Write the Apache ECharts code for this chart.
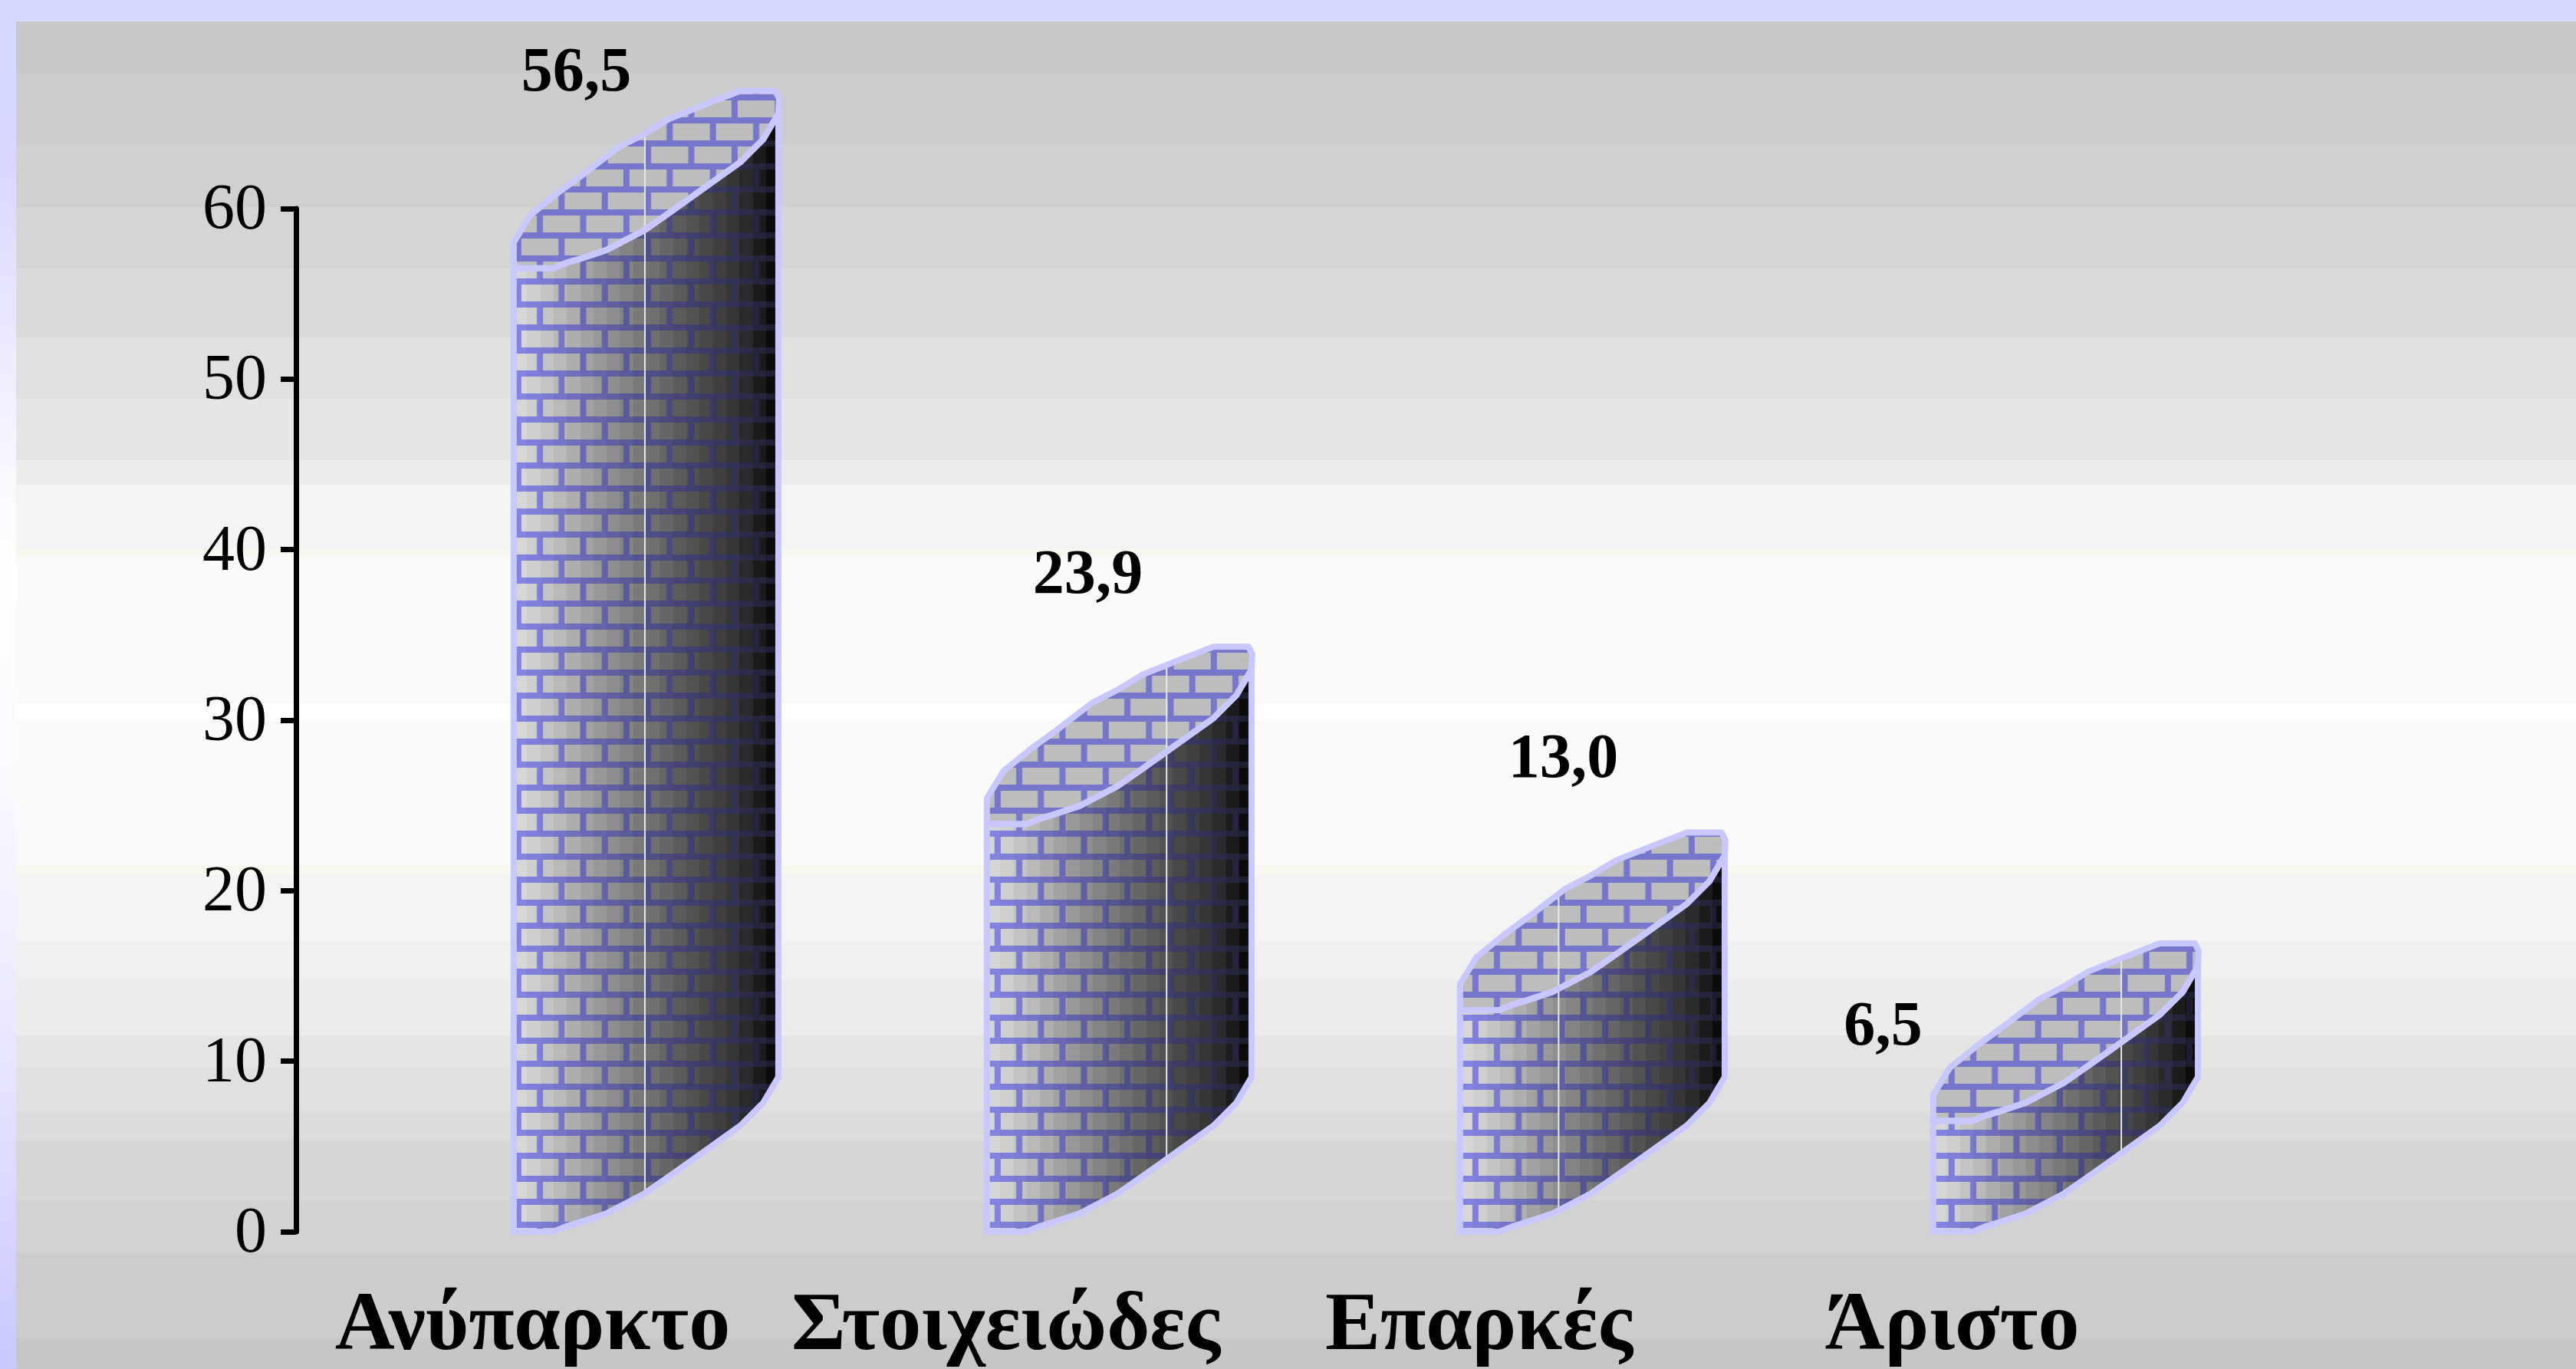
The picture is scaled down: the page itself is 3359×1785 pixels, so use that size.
<!DOCTYPE html>
<html lang="el">
<head>
<meta charset="utf-8">
<title>Επίπεδα</title>
<style>
  html, body { margin: 0; padding: 0; background: #fff; overflow: hidden; }
  #chart { width: 3359px; height: 1785px; }
</style>
<script src="https://cdn.jsdelivr.net/npm/echarts@6/dist/echarts.min.js"></script>
</head>
<body>
<div id="chart"></div>
<script>
// Chart content
const categories = ['Ανύπαρκτο', 'Στοιχειώδες', 'Επαρκές', 'Άριστο'];
const values = [56.5, 23.9, 13.0, 6.5];
const tickValues = { min: 0, max: 60, step: 10 };

// Hand-placed value labels: offset from the band centre and the column's top
const labelShift = [[57, -253], [107, -323], [110, -325], [-90, -121]];
// Seam line on each column, measured from its left edge
const seamAt = [173, 237, 130, 248];
// Horizontal phase of the brick joints on each column
const brickPhase = [6, 14, 20, 24];

// Column section, in units where the column is 350 wide; y grows downward
const SECTION_WIDTH = 350;
const frontEdge = [[0, 0], [8, 0], [52, 0], [69, -7], [89, -13], [122, -24], [172, -50],
  [205, -73], [229, -90], [299, -140], [329, -170], [349, -204]];
const backEdge = [[350, -224], [345, -234], [299, -234], [255, -217], [205, -197],
  [172, -177], [139, -160], [92, -124], [59, -100], [22, -70], [0, -34]];

const OUTLINE = '#c8c8ff';
const RIM_GREY = 0xbd;
const SERIF = '"Liberation Serif", "Times New Roman", serif';

// Stepped shading across the column body, light on the left and black on the right
const shadeLevels = [0xd6, 0xce, 0xc4, 0xba, 0xae, 0xa2, 0x98, 0x8e, 0x84, 0x7a, 0x70, 0x66,
  0x5c, 0x52, 0x48, 0x40, 0x36, 0x2a, 0x1c, 0x0c];

// One repeating tile of wall: grey shading with blue-tinted mortar laid over it.
// Two courses, half a brick out of step; the tile is as wide as the column.
const brickW = 56.4, brickH = 60, mortar = 8;
function paintMortar(g, w, phase) {
  const joint = (x, y0, y1) => g.fillRect(x - mortar / 2, y0, mortar, y1 - y0);
  g.fillRect(0, 7 - mortar / 2, w, mortar);
  g.fillRect(0, 37 - mortar / 2, w, mortar);
  for (let x = phase - brickW; x < w + brickW; x += brickW) {
    joint(x, 7 + mortar / 2, 37 - mortar / 2);
    joint(x + brickW / 2, 37 + mortar / 2, brickH);
    joint(x + brickW / 2, 0, 7 - mortar / 2);
  }
}
function wallTile(width, phase, levels) {
  const c = document.createElement('canvas');
  c.width = Math.ceil(width) + 8;
  c.height = brickH;
  const g = c.getContext('2d');
  levels.forEach((v, i) => {
    g.fillStyle = `rgb(${v},${v},${v})`;
    const x0 = Math.round(i * width / levels.length);
    const x1 = i === levels.length - 1 ? c.width : Math.round((i + 1) * width / levels.length);
    g.fillRect(x0, 0, x1 - x0, brickH);
  });
  g.globalCompositeOperation = 'multiply';
  g.fillStyle = 'rgb(130,130,225)';
  paintMortar(g, c.width, phase);
  g.globalCompositeOperation = 'lighter';
  g.fillStyle = 'rgb(22,22,36)';
  paintMortar(g, c.width, phase);
  return c;
}

// Height of an edge polyline at a given distance from the left of the section
function edgeAt(edge, x) {
  const pts = edge.slice().sort((a, b) => a[0] - b[0]);
  for (let i = 1; i < pts.length; i++) {
    if (x <= pts[i][0]) {
      const t = (x - pts[i - 1][0]) / (pts[i][0] - pts[i - 1][0] || 1);
      return pts[i - 1][1] + t * (pts[i][1] - pts[i - 1][1]);
    }
  }
  return pts[pts.length - 1][1];
}

const tileCache = {};
function renderColumn(params, api) {
  const i = api.value(0), v = api.value(1);
  const band = api.size([1, 0])[0];
  const center = api.coord([i, 0])[0];
  const baseY = api.coord([i, 0])[1];
  const topY = api.coord([i, v])[1];
  const width = band * 0.561;
  const left = center - band * 0.04;
  const k = width / SECTION_WIDTH;
  const at = y => p => [left + p[0] * k, y + p[1] * k];

  const frontLow = frontEdge.map(at(baseY));
  const frontTop = frontEdge.map(at(topY));
  const rear = backEdge.map(at(topY));
  const bodyPts = frontLow.concat(frontTop.slice().reverse());
  const rimPts = frontTop.concat(rear);

  if (!tileCache[i]) {
    tileCache[i] = {
      body: wallTile(width, brickPhase[i], shadeLevels),
      rim: wallTile(width, brickPhase[i], [RIM_GREY])
    };
  }
  const wall = image => ({ image, repeat: 'repeat', x: left, y: 0 });
  const seamX = seamAt[i];
  const seamLow = baseY + edgeAt(frontEdge, seamX) * k;
  const seamHigh = topY + edgeAt(backEdge, seamX) * k;
  const edgeStyle = { fill: 'none', stroke: OUTLINE, lineWidth: 8, lineJoin: 'round' };
  const poly = (points, style) => ({ type: 'polygon', shape: { points }, style });

  return {
    type: 'group',
    children: [
      poly(bodyPts, { fill: wall(tileCache[i].body) }),
      poly(rimPts, { fill: wall(tileCache[i].rim) }),
      {
        type: 'line',
        shape: { x1: left + seamX * k, y1: seamLow, x2: left + seamX * k, y2: seamHigh },
        style: { stroke: '#e8e8e8', lineWidth: 2 }
      },
      poly(bodyPts, edgeStyle),
      poly(rimPts, edgeStyle),
      {
        type: 'text',
        style: {
          text: v.toFixed(1).replace('.', ','),
          x: center + labelShift[i][0],
          y: topY + labelShift[i][1],
          align: 'center',
          verticalAlign: 'middle',
          font: 'bold 82px ' + SERIF,
          fill: '#000'
        }
      }
    ]
  };
}

// Slide backdrop: banded grey panel on a lavender frame
const CANVAS_H = 1785, PANEL_TOP = 28, FRAME_W = 21;
const panelBandTops = [28, 95, 187, 270, 350, 440, 520, 600, 632, 715, 726, 918, 940,
  1128, 1141, 1226, 1277, 1350, 1393, 1450, 1487, 1565, 1633, 1745];
const panelBandGreys = ['#c8c8c8', '#cccccc', '#d0d0d0', '#d5d5d5', '#dadada', '#e0e0e0',
  '#e6e6e6', '#ececec', '#f4f4f4', '#f8f8f0', '#fafafa', '#ffffff', '#fafafa', '#f8f8f0',
  '#f4f4f4', '#f0f0f0', '#ececec', '#e4e4e4', '#e0e0e0', '#dcdcdc', '#d6d6d6', '#d2d2d2',
  '#cccccc', '#c6c6c6'];
function panelGradient() {
  const span = CANVAS_H - PANEL_TOP;
  const stops = [];
  panelBandTops.forEach((y, i) => {
    const next = i + 1 < panelBandTops.length ? panelBandTops[i + 1] : CANVAS_H;
    stops.push({ offset: (y - PANEL_TOP) / span, color: panelBandGreys[i] });
    stops.push({ offset: (next - PANEL_TOP) / span, color: panelBandGreys[i] });
  });
  return new echarts.graphic.LinearGradient(0, 0, 0, 1, stops);
}
const frameGradient = new echarts.graphic.LinearGradient(0, 0, 0, 1, [
  { offset: 0, color: '#d6d8ff' },
  { offset: 0.12, color: '#d8d8ff' },
  { offset: 0.2, color: '#e4e2ff' },
  { offset: 0.33, color: '#f6f6ff' },
  { offset: 0.42, color: '#ffffff' },
  { offset: 0.55, color: '#fafaff' },
  { offset: 0.66, color: '#f2f2ff' },
  { offset: 0.8, color: '#e4e2ff' },
  { offset: 1, color: '#c8c8ff' }
]);

const chart = echarts.init(document.getElementById('chart'), null, { renderer: 'canvas' });
chart.setOption({
  animation: false,
  backgroundColor: '#d6d8ff',
  graphic: [
    {
      type: 'rect', z: -10, silent: true,
      shape: { x: 0, y: 0, width: FRAME_W, height: CANVAS_H },
      style: { fill: frameGradient }
    },
    {
      type: 'rect', z: -9, silent: true,
      shape: { x: FRAME_W, y: PANEL_TOP, width: 3359 - FRAME_W, height: CANVAS_H - PANEL_TOP },
      style: { fill: panelGradient() }
    }
  ],
  grid: { left: 386, top: 272, width: 2468, height: 1334, containLabel: false, outerBoundsMode: 'none' },
  xAxis: {
    type: 'category',
    data: categories,
    axisLine: { show: false },
    axisTick: { show: false },
    splitLine: { show: false },
    axisLabel: {
      interval: 0,
      margin: 71,
      fontFamily: SERIF,
      fontWeight: 'bold',
      fontSize: 108,
      color: '#000'
    }
  },
  yAxis: {
    type: 'value',
    min: tickValues.min,
    max: tickValues.max,
    interval: tickValues.step,
    splitLine: { show: false },
    axisLine: { show: true, lineStyle: { color: '#000', width: 7 } },
    axisTick: { show: true, length: 20, lineStyle: { color: '#000', width: 7 } },
    axisLabel: {
      margin: 38,
      formatter: v => `{t|${v}}`,
      rich: {
        t: { padding: [8, 0, 0, 0], fontFamily: SERIF, fontSize: 84, color: '#000' }
      }
    }
  },
  series: [{
    type: 'custom',
    coordinateSystem: 'cartesian2d',
    encode: { x: 0, y: 1 },
    data: values.map((v, i) => [i, v]),
    renderItem: renderColumn,
    silent: true,
    clip: false
  }]
});
</script>
</body>
</html>
